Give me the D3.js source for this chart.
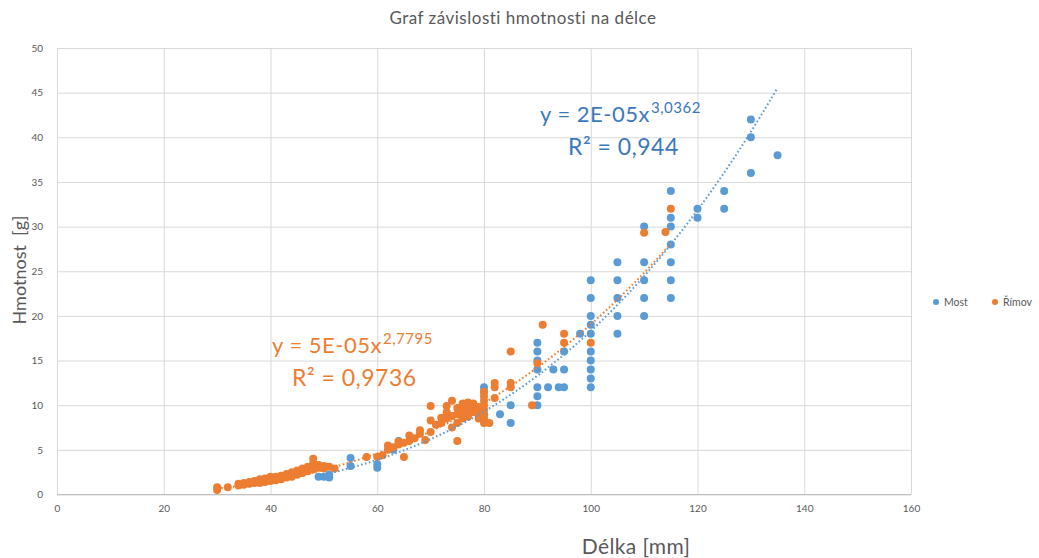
<!DOCTYPE html>
<html>
<head>
<meta charset="utf-8">
<script src="https://cdn.jsdelivr.net/npm/d3@7"></script>
<style>
  body { margin: 0; background: #ffffff; }
  text { font-family: Lato, "Open Sans", sans-serif; }
</style>
</head>
<body>
<svg id="chart"></svg>
<script>
let chartTitle = "Graf závislosti hmotnosti na délce";
let xTitle = "Délka [mm]";
let yTitle = "Hmotnost  [g]";
let seriesNames = [ "Most", "Římov" ];
let seriesColors = [ "#5B9BD5", "#ED7D31" ];
let eqColors = [ "#3C78BE", "#ED7D31" ];
let xTicks = [ 0, 20, 40, 60, 80, 100, 120, 140, 160 ];
let yTicks = [ 0, 5, 10, 15, 20, 25, 30, 35, 40, 45, 50 ];

// Most  [delka, hmotnost]
let mostPoints = [
  [49,2.0],[50,2.0],[51,2.2],[51,1.9],[55,4.1],[55,3.2],[60,3.0],[60,3.4],[63,5.0],[64,6.0],
  [80,12],[80,11.5],[80,9],[83,9],[85,10],[85,8],
  [90,17],[90,16],[90,15],[90,14],[90,12],[90,11],[90,10],
  [92,12],[93,14],[94,12],[95,16],[95,14],[95,12],[98,18],
  [100,24],[100,22],[100,20],[100,19],[100,18],[100,16],[100,15],[100,14],[100,13],[100,12],
  [105,26],[105,24],[105,22],[105,20],[105,18],
  [110,30],[110,26],[110,24],[110,22],[110,20],
  [115,34],[115,31],[115,30],[115,28],[115,26],[115,24],[115,22],
  [120,32],[120,31],[125,34],[125,32],[130,42],[130,40],[130,36],[135,38]
];

// Rimov  [delka, hmotnost]
let rimovPoints = [
  [30,0.5],[30,0.8],[32,0.8],[34,1.0],[34,1.2],[35,1.1],[35,1.3],[36,1.2],[36,1.4],[37,1.3],[37,1.5],
  [38,1.3],[38,1.5],[38,1.7],[39,1.4],[39,1.6],[39,1.8],[40,1.5],[40,1.7],[40,1.9],[40,2.0],
  [41,1.6],[41,1.8],[41,2.0],[42,1.7],[42,1.9],[42,2.1],[43,1.9],[43,2.1],[43,2.3],
  [44,2.0],[44,2.3],[44,2.5],[45,2.2],[45,2.5],[45,2.7],[46,2.4],[46,2.6],[46,2.9],
  [47,2.6],[47,2.9],[47,3.1],[48,2.8],[48,3.2],[48,3.5],[48,4.0],[49,3.0],[49,3.3],
  [50,2.9],[50,3.2],[51,3.1],[52,2.9],[58,4.2],[60,4.2],[61,4.4],[62,5.0],[62,5.5],[63,5.3],
  [64,5.6],[64,5.9],[65,4.2],[65,5.8],[66,6.6],[66,6.0],[67,6.3],[68,7.2],[68,6.8],[69,6.1],
  [70,7.0],[70,8.3],[70,9.9],[71,7.8],[72,8.6],[72,8.0],[73,9.9],[73,9.2],[73,8.5],
  [74,10.5],[74,8.8],[74,7.5],[75,6.0],[75,9.0],[75,9.7],[75,8.0],[76,9.3],[76,10.2],[76,8.5],[76,9.8],
  [77,9.6],[77,10.3],[77,9.0],[77,8.7],[78,9.8],[78,9.2],[78,10.2],[79,9.2],[79,9.8],[79,8.5],
  [80,8.0],[80,8.5],[80,9.0],[80,9.5],[80,10.0],[80,10.5],[80,11.0],[80,11.5],[81,8.0],
  [82,10.8],[82,12.0],[82,12.5],[85,12.0],[85,12.5],[85,16.0],[89,10.0],[90,14.7],[91,19.0],
  [95,17.0],[95,18.0],[100,17.0],[110,29.3],[114,29.4],[115,32.0]
];

// power trendlines y = a * x^b
let trendA = [ 1.55e-5, 5.26e-5 ];
let trendB = [ 3.0362, 2.7795 ];
let trendLabels = [ [ "y = 2E-05x", "3,0362", "R² = 0,944" ], [ "y = 5E-05x", "2,7795", "R² = 0,9736" ] ];

let W = 1039, H = 558;
let plotL = 57, plotR = 911, plotT = 48, plotB = 494.5;
let axisClr = "#595959";
let gridClr = "#D9D9D9";

let svg = d3.select("#chart").attr("width", W).attr("height", H);
svg.append("rect").attr("width", W).attr("height", H).attr("fill", "#ffffff");

let xScale = d3.scaleLinear().domain([0, 160]).range([plotL, plotR]);
let yScale = d3.scaleLinear().domain([0, 50]).range([plotB, plotT]);

// grid
svg.append("g")
  .attr("transform", "translate(0," + plotB + ")")
  .call(d3.axisBottom(xScale).tickValues(xTicks).tickSize(-(plotB - plotT)).tickFormat(""))
  .call(g => g.select(".domain").remove())
  .call(g => g.selectAll("line").attr("stroke", gridClr).attr("stroke-width", 1));
svg.append("g")
  .attr("transform", "translate(" + plotL + ",0)")
  .call(d3.axisLeft(yScale).tickValues(yTicks).tickSize(-(plotR - plotL)).tickFormat(""))
  .call(g => g.select(".domain").remove())
  .call(g => g.selectAll("line").attr("stroke", gridClr).attr("stroke-width", 1));

// bottom axis line
svg.append("line")
  .attr("x1", plotL).attr("x2", plotR).attr("y1", plotB).attr("y2", plotB)
  .attr("stroke", "#BFBFBF").attr("stroke-width", 1);

// tick labels
let xAxis = svg.append("g")
  .attr("transform", "translate(0," + plotB + ")")
  .call(d3.axisBottom(xScale).tickValues(xTicks).tickSize(0).tickPadding(10));
xAxis.select(".domain").remove();
xAxis.selectAll("text").attr("fill", axisClr).style("font-size", "10px");

let yAxis = svg.append("g")
  .attr("transform", "translate(" + plotL + ",0)")
  .call(d3.axisLeft(yScale).tickValues(yTicks).tickSize(0).tickPadding(14));
yAxis.select(".domain").remove();
yAxis.selectAll("text").attr("fill", axisClr).style("font-size", "10px");

// titles
svg.append("text")
  .attr("x", 523).attr("y", 24)
  .attr("text-anchor", "middle")
  .attr("fill", axisClr)
  .style("font-size", "17px")
  .style("letter-spacing", "0.5px")
  .text(chartTitle);

svg.append("text")
  .attr("x", 636).attr("y", 554)
  .attr("text-anchor", "middle")
  .attr("fill", axisClr)
  .style("font-size", "21px")
  .style("letter-spacing", "0.4px")
  .text(xTitle);

svg.append("text")
  .attr("transform", "translate(26,270) rotate(-90)")
  .attr("text-anchor", "middle")
  .attr("fill", axisClr)
  .style("font-size", "18px")
  .style("white-space", "pre")
  .text(yTitle);

// points
let allSeries = [ mostPoints, rimovPoints ];
allSeries.forEach((pts, si) => {
  svg.append("g")
    .selectAll("circle")
    .data(pts).enter().append("circle")
      .attr("cx", d => xScale(d[0]))
      .attr("cy", d => yScale(d[1]))
      .attr("r", 4)
      .attr("fill", seriesColors[si]);
});

// trendlines
let trendLine = d3.line().x(d => xScale(d[0])).y(d => yScale(d[1]));
allSeries.forEach((pts, si) => {
  let xs = d3.extent(pts, d => d[0]);
  let curve = d3.range(xs[0], xs[1] + 0.01, 0.5).map(x => [ x, trendA[si] * Math.pow(x, trendB[si]) ]);
  svg.append("path")
    .datum(curve)
    .attr("d", trendLine)
    .attr("fill", "none")
    .attr("stroke", seriesColors[si])
    .attr("stroke-width", 2)
    .attr("stroke-dasharray", "1.6,2.4");
});

// equations
let eqPos = [ [ 540, 122, 568, 155 ], [ 272, 353, 292, 386 ] ];
trendLabels.forEach((lbl, si) => {
  let p = eqPos[si];
  let t = svg.append("text")
    .attr("x", p[0]).attr("y", p[1])
    .attr("fill", eqColors[si])
    .style("font-size", "22px")
    .style("letter-spacing", "0.5px");
  t.append("tspan").text(lbl[0]);
  t.append("tspan").attr("dx", 1).attr("dy", -9).style("font-size", "15px").text(lbl[1]);
  svg.append("text")
    .attr("x", p[2]).attr("y", p[3])
    .attr("fill", eqColors[si])
    .style("font-size", "23px")
    .style("letter-spacing", "0.5px")
    .text(lbl[2]);
});

// legend
let legendX = [ 936, 995 ];
seriesNames.forEach((name, si) => {
  let lg = svg.append("g").attr("transform", "translate(" + legendX[si] + ",302)");
  lg.append("circle").attr("r", 3).attr("fill", seriesColors[si]);
  lg.append("text")
    .attr("x", 8).attr("y", 4)
    .attr("fill", axisClr)
    .style("font-size", "10.5px")
    .text(name);
});
</script>
</body>
</html>
